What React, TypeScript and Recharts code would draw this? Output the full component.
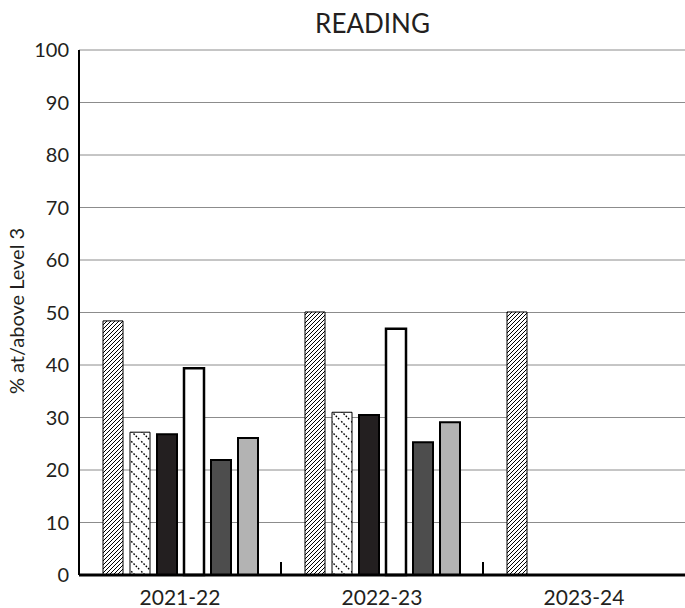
import { BarChart, Bar, XAxis, YAxis, CartesianGrid } from 'recharts';

// Reading proficiency by school year, six student groups per year.
const categories = ['2021-22', '2022-23', '2023-24'];
const seriesHatch = [48.4, 50.1, 50.1];
const seriesDotted = [27.2, 31.0, null];
const seriesBlack = [26.8, 30.5, null];
const seriesWhite = [39.4, 46.9, null];
const seriesDark = [21.9, 25.3, null];
const seriesLight = [26.1, 29.1, null];
const yTicks = [0, 10, 20, 30, 40, 50, 60, 70, 80, 90, 100];

const data = categories.map((year, i) => ({
  year,
  hatch: seriesHatch[i],
  dotted: seriesDotted[i],
  black: seriesBlack[i],
  white: seriesWhite[i],
  dark: seriesDark[i],
  light: seriesLight[i],
}));

const W = 685;
const H = 608;
const LEFT = 79;
const FONT = 'Lato, "Open Sans", sans-serif';
const INK = '#231f20';

function XTick(props: any) {
  const { x, y, payload, index } = props;
  const band = (W - LEFT) / categories.length;
  return (
    <g>
      <text x={x} y={y + 30} textAnchor="middle" fontSize={21} fill={INK} fontFamily={FONT}>
        {payload.value}
      </text>
      {index < categories.length - 1 && (
        <line x1={x + band / 2} x2={x + band / 2} y1={y - 13} y2={y} stroke="#000" strokeWidth={2} />
      )}
    </g>
  );
}

export default function App() {
  return (
    <div style={{ position: 'absolute', left: 0, top: 0, width: W, height: H, background: '#fff', overflow: 'hidden' }}>
      <svg width={0} height={0} style={{ position: 'absolute' }}>
        <defs>
          <pattern id="hatch" width={4} height={4} patternUnits="userSpaceOnUse">
            <rect width={4} height={4} fill="#fff" />
            <path d="M-1,1 L1,-1 M0,4 L4,0 M3,5 L5,3" stroke="#000" strokeWidth={1} />
          </pattern>
          <pattern id="dotted" width={10} height={10} patternUnits="userSpaceOnUse">
            <rect width={10} height={10} fill="#fff" />
            <path d="M-1,-1 L11,11" stroke="#000" strokeWidth={1.4} strokeDasharray="1.6 1.6" />
          </pattern>
        </defs>
      </svg>
      <div
        style={{
          position: 'absolute', left: 0, width: W + 60, top: 8, textAlign: 'center',
          fontFamily: FONT, fontSize: 26, color: INK, lineHeight: '30px',
        }}
      >
        READING
      </div>
      <div
        style={{
          position: 'absolute', left: 16, top: 311, width: 0, height: 0,
        }}
      >
        <div
          style={{
            position: 'absolute', transform: 'translate(-50%, -50%) rotate(-90deg)',
            whiteSpace: 'nowrap', fontFamily: FONT, fontSize: 20, color: INK, lineHeight: '24px',
          }}
        >
          % at/above Level 3
        </div>
      </div>
      <BarChart
        width={W}
        height={H}
        data={data}
        margin={{ top: 50, right: 0, bottom: 0, left: 0 }}
        barSize={20}
        barGap={7}
        style={{ position: 'absolute', left: 0, top: 0 }}
      >
        <CartesianGrid vertical={false} stroke="#8c8c8c" strokeWidth={1} />
        <XAxis
          dataKey="year"
          height={33}
          axisLine={{ stroke: '#000', strokeWidth: 3 }}
          tickLine={false}
          tickSize={0}
          tickMargin={0}
          tick={<XTick />}
          interval={0}
        />
        <YAxis
          width={LEFT}
          domain={[0, 100]}
          ticks={yTicks}
          interval={0}
          axisLine={{ stroke: '#000', strokeWidth: 2 }}
          tickLine={false}
          tickSize={0}
          tickMargin={10}
          tick={{ fontSize: 20, fill: INK, fontFamily: FONT }}
        />
        <Bar dataKey="hatch" fill="url(#hatch)" stroke="#000" strokeWidth={1} isAnimationActive={false} />
        <Bar dataKey="dotted" fill="url(#dotted)" stroke="#000" strokeWidth={1} isAnimationActive={false} />
        <Bar dataKey="black" fill={INK} stroke="#000" strokeWidth={2} isAnimationActive={false} />
        <Bar dataKey="white" fill="#fff" stroke="#000" strokeWidth={2.5} isAnimationActive={false} />
        <Bar dataKey="dark" fill="#4d4d4d" stroke="#000" strokeWidth={2} isAnimationActive={false} />
        <Bar dataKey="light" fill="#b3b3b3" stroke="#000" strokeWidth={2} isAnimationActive={false} />
      </BarChart>
    </div>
  );
}
